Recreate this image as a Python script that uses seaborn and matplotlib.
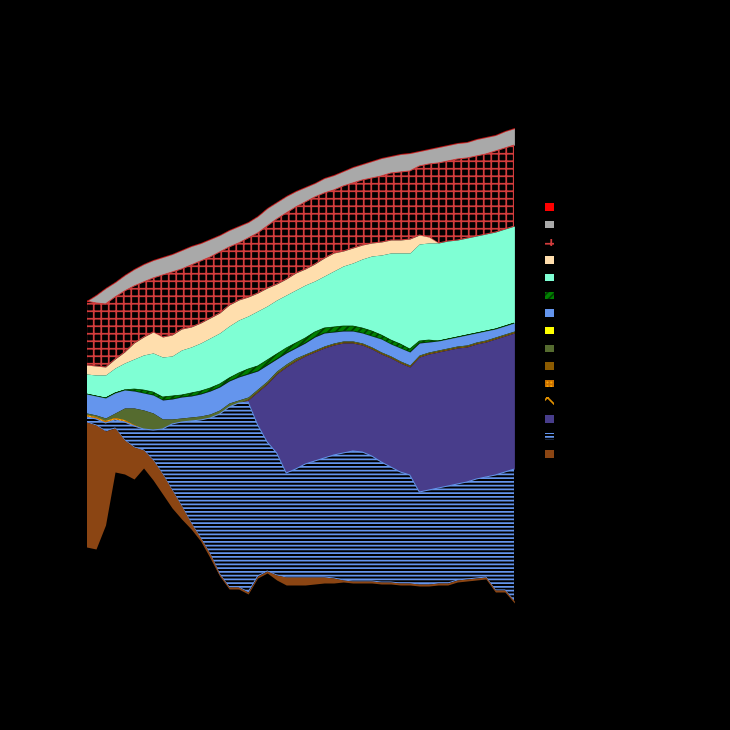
import numpy as np
import matplotlib
matplotlib.use("Agg")
import matplotlib.pyplot as plt
from matplotlib.patches import Patch
import seaborn as sns

years = np.arange(1970, 2016)

# stacked from the bottom up; the first layer is only the offset below the areas
offset = [93, 91, 115, 168, 166, 161, 172, 160, 146, 132, 121, 111, 99, 82, 64, 51, 51, 46, 62, 67,
          60, 55, 55, 55, 56, 57, 57, 58, 57, 57, 57, 56, 56, 55, 55, 54, 54, 55, 55, 58,
          59, 60, 61, 48, 48, 37]
saddle = [125, 124, 94, 44, 34, 32, 18, 20, 20, 18, 13, 6, 3, 4, 2, 2, 2, 2, 2, 2,
          5, 8, 8, 8, 7, 6, 5, 2, 2, 2, 2, 2, 2, 2, 2, 2, 2, 2, 2, 2,
          2, 2, 2, 2, 2, 2]
blue_lines = [5, 6, 8, 8, 18, 21, 21, 30, 45, 66, 84, 102, 118, 136, 160, 180, 184, 190, 151, 129,
              122, 104, 108, 113, 116, 119, 123, 127, 130, 129, 125, 120, 115, 111, 108, 92, 94, 95, 97, 96,
              97, 99, 100, 115, 118, 132]
slate = [0, 0, 0, 0, 0, 0, 0, 0, 0, 0, 0, 0, 0, 0, 0, 0, 0, 2, 33, 58,
         79, 106, 108, 108, 109, 110, 110, 110, 108, 107, 107, 108, 109, 109, 108, 135, 136, 136, 136, 136,
         135, 135, 135, 136, 136, 136]
orange_x = [0] * 46
orange_grid = [2, 2, 2, 2, 2, 1, 0, 0, 0, 0, 0, 0, 0, 0, 0, 0, 0, 0, 0, 0,
               0, 0, 0, 0, 0, 0, 0, 0, 0, 0, 0, 0, 0, 0, 0, 0, 0, 0, 0, 0,
               0, 0, 0, 0, 0, 0]
brown = [0, 0, 0, 0, 0, 0, 0, 0, 0, 0, 0, 0, 0, 0, 0, 0, 0, 1, 1, 1,
         1, 1, 1, 1, 1, 1, 1, 1, 1, 1, 1, 1, 1, 1, 1, 1, 1, 1, 1, 1,
         1, 1, 1, 1, 1, 1]
olive = [2, 2, 3, 5, 12, 17, 19, 17, 10, 5, 4, 4, 4, 4, 4, 4, 3, 2, 2, 2,
         2, 2, 2, 1, 1, 1, 1, 1, 1, 1, 1, 1, 1, 1, 1, 1, 1, 1, 1, 1,
         1, 1, 1, 1, 1, 1]
yellow = [0] * 46
cornflower = [19, 19, 20, 20, 18, 17, 17, 18, 19, 20, 21, 21, 22, 23, 23, 22, 23, 23, 18, 16,
              12, 11, 10, 11, 13, 13, 11, 10, 10, 10, 11, 13, 12, 13, 13, 12, 10, 9, 9, 9,
              10, 9, 9, 8, 8, 8]
green = [0, 0, 0, 0, 0, 2, 3, 3, 3, 3, 2, 3, 3, 3, 3, 3, 4, 5, 5, 5,
         5, 5, 5, 5, 5, 5, 5, 5, 5, 5, 5, 4, 4, 4, 3, 2, 2, 0, 0, 0,
         0, 0, 0, 0, 0, 0]
aqua = [20, 21, 23, 25, 27, 30, 35, 39, 40, 40, 45, 46, 48, 50, 51, 52, 53, 53, 55, 54,
        54, 53, 53, 53, 51, 52, 56, 60, 63, 69, 75, 80, 87, 91, 96, 97, 97, 98, 98, 97,
        97, 97, 97, 97, 97, 97]
navajo = [9, 9, 8, 9, 11, 16, 18, 21, 20, 21, 21, 20, 20, 20, 20, 21, 20, 19, 18, 18,
          16, 16, 17, 16, 17, 18, 18, 15, 15, 14, 13, 13, 13, 13, 14, 9, 6, 0, 0, 0,
          0, 0, 0, 0, 0, 0]
red_grid = [64, 63, 63, 62, 61, 57, 55, 54, 62, 63, 60, 62, 62, 61, 61, 58, 57, 59, 60, 62,
            65, 66, 66, 67, 67, 65, 63, 65, 65, 65, 65, 66, 67, 68, 68, 69, 73, 80, 80, 81,
            80, 80, 80, 81, 81, 81]
grey = [0, 8, 16, 15, 16, 17, 18, 18, 18, 18, 19, 19, 18, 18, 17, 17, 17, 16, 17, 18,
        17, 17, 16, 15, 14, 15, 15, 15, 16, 16, 17, 18, 17, 18, 18, 15, 15, 16, 16, 16,
        16, 17, 17, 16, 17, 17]
red = [0] * 46

layers = [saddle, blue_lines, slate, orange_x, orange_grid, brown, olive, yellow,
          cornflower, green, aqua, navajo, red_grid, grey, red]
labels = ["Category 15", "Category 14", "Category 13", "Category 12", "Category 11",
          "Category 10", "Category 9", "Category 8", "Category 7", "Category 6",
          "Category 5", "Category 4", "Category 3", "Category 2", "Category 1"]
faces = ["#8B4513", "black", "#483D8B", "black", "#FFA500", "#8B5A00", "#556B2F", "#FFFF00",
         "#6495ED", "#008000", "#7FFFD4", "#FFDEAD", "black", "#A9A9A9", "#FF0000"]
hatch_colors = ["#8B4513", "#6495ED", "#483D8B", "#E09000", "#C87000", "#8B5A00", "#556B2F", "#FFFF00",
                "#6495ED", "#004000", "#7FFFD4", "#FFDEAD", "#D23C3C", "#A9A9A9", (1, 0, 0, 0.45)]
hatches = [None, "----", None, "xx", "++++", None, None, None,
           None, "////", None, None, "++", None, None]
edge_widths = [0, 0.8, 0, 0, 0, 0, 0, 0, 0, 0.6, 0, 0, 0.8, 0, 0.8]

sns.set_theme(style="dark", rc={"axes.facecolor": "black", "figure.facecolor": "black",
                                "savefig.facecolor": "black", "text.color": "black"})
plt.rcParams["hatch.linewidth"] = 1.4

fig = plt.figure(figsize=(730 / 90, 730 / 90), dpi=90)
ax = fig.add_axes([86.5 / 730, 90 / 730, 427.9 / 730, 540 / 730])

polys = ax.stackplot(years, offset, *layers,
                     colors=["black"] + faces,
                     labels=["_offset"] + labels,
                     hatch=[None] + hatches)
polys[0].set_linewidth(0)
polys[0].set_edgecolor("none")
n = len(layers)
for i, (p, hc, lw) in enumerate(zip(polys[1:], hatch_colors, edge_widths)):
    p.set_edgecolor(hc)
    p.set_linewidth(lw)
    p.set_zorder(2 + n - i)
polys[-1].set_zorder(2 + n + 1)

ax.set_xlim(1970, 2015)
ax.set_ylim(0, 540)
ax.set_xticks([])
ax.set_yticks([])
for s in ax.spines.values():
    s.set_visible(False)

handles = [Patch(facecolor=fc, edgecolor=hc, hatch=h, linewidth=0)
           for fc, hc, h in zip(faces, hatch_colors, hatches)]
handles[-1] = Patch(facecolor="#FF0000", linewidth=0)
ax.legend(handles[::-1], labels[::-1], loc="upper left",
          bbox_to_anchor=(540.7 / 730, 1 - 198.5 / 730), bbox_transform=fig.transFigure,
          frameon=False, fontsize=8.5, handlelength=0.85, handleheight=0.7,
          labelspacing=0.72, borderaxespad=0, labelcolor="black")

fig.savefig("out.png", dpi=90, facecolor="black")
